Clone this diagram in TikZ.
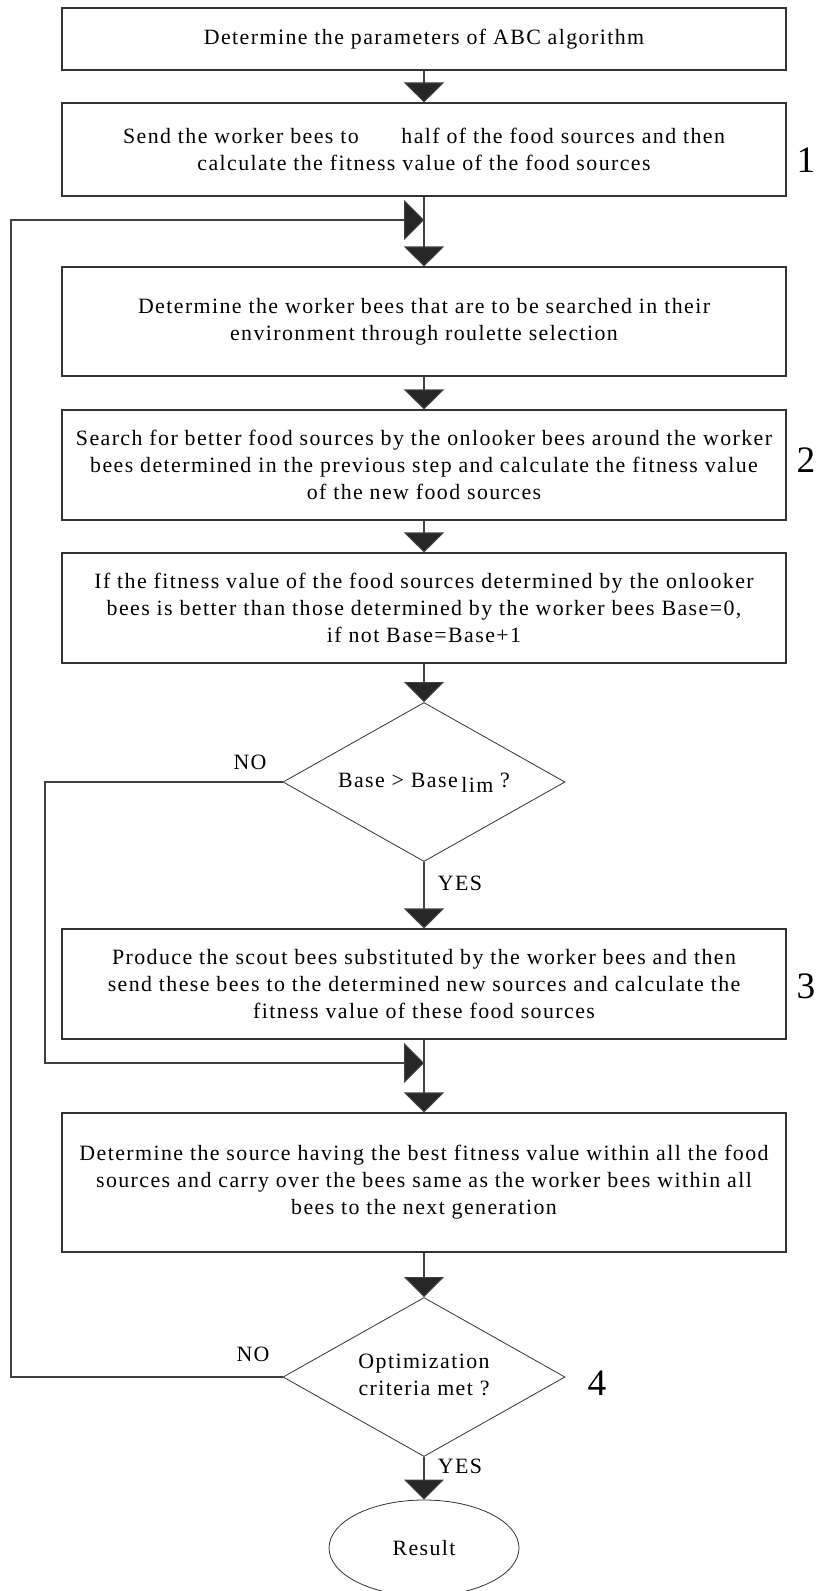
\documentclass[tikz,border=0pt]{standalone}
\usepackage{fontspec}
\setmainfont{Liberation Serif}[LetterSpace=6.5]
\usetikzlibrary{shapes.geometric,arrows.meta}

\newcommand{\bodyfont}{\fontsize{16.4}{20.25}\selectfont}
\newcommand{\stepfont}{\fontsize{28}{30}\selectfont}
\newcommand{\narrow}[1]{\makebox[0pt]{\begin{tabular}{@{}c@{}}#1\end{tabular}}}

\tikzset{
  procbox/.style={draw=black!80, line width=0.8pt, minimum width=543pt, align=center, inner sep=0pt, font=\bodyfont},
  testbox/.style={draw=black!80, line width=0.6pt, diamond, minimum width=211.5pt, minimum height=119.25pt, inner sep=0pt, font=\bodyfont},
  endbox/.style={draw=black!80, line width=0.6pt, ellipse, minimum width=142.5pt, minimum height=72pt, inner sep=0pt, font=\bodyfont},
  flow/.style={draw=black!75, line width=0.8pt, -{Triangle[width=30pt,length=15pt,fill=black!85]}},
  lbl/.style={inner sep=0pt, font=\bodyfont},
  stepno/.style={inner sep=0pt, font=\stepfont}
}

\begin{document}
\begin{tikzpicture}[x=0.75pt,y=0.75pt,yscale=-1,xscale=1]
\useasboundingbox (0,0) rectangle (827,1591);

% Process boxes
\node[procbox, minimum height=46.5pt] (param) at (424,39) {Determine the parameters of ABC algorithm};
\node[procbox, minimum height=69.75pt] (send) at (424,149.5) {Send the worker bees to\hspace{32pt}half of the food sources and then\\calculate the fitness value of the food sources};
\node[procbox, minimum height=81.75pt] (roul) at (424,321.5) {Determine the worker bees that are to be searched in their\\environment through roulette selection};
\node[procbox, minimum height=82.5pt] (onlook) at (424,465) {Search for better food sources by the onlooker bees around the worker\\bees determined in the previous step and calculate the fitness value\\of the new food sources};
\node[procbox, minimum height=82.5pt] (cmp) at (424,608) {If the fitness value of the food sources determined by the onlooker\\bees is better than those determined by the worker bees Base=0,\\if not Base=Base+1};
\node[procbox, minimum height=82.5pt] (scout) at (424,984) {Produce the scout bees substituted by the worker bees and then\\send these bees to the determined new sources and calculate the\\fitness value of these food sources};
\node[procbox, minimum height=104.25pt] (best) at (424,1182.5) {Determine the source having the best fitness value within all the food\\sources and carry over the bees same as the worker bees within all\\bees to the next generation};

% Decisions
\node[testbox] (lim) at (424,782) {\narrow{Base > Base\,\raisebox{-0.55ex}{lim} ?}};
\node[testbox] (crit) at (424,1377) {\narrow{Optimization\\criteria met ?}};
\node[endbox] (res) at (424,1548) {Result};

% Junctions of the loops
\coordinate (jtop) at (424,220);
\coordinate (jmid) at (424,1063);
\coordinate (outer) at (11,0);
\coordinate (inner) at (45,0);

% Flow
\draw[flow] (param) -- (send);
\draw[flow] (send) -- (roul);
\draw[flow] (roul) -- (onlook);
\draw[flow] (onlook) -- (cmp);
\draw[flow] (cmp) -- (lim);
\draw[flow] (lim) -- (scout);
\draw[flow] (scout) -- (best);
\draw[flow] (best) -- (crit);
\draw[flow] (crit) -- (res);
\draw[flow] (lim.west) -- (lim.west -| inner) |- (jmid);
\draw[flow] (crit.west) -- (crit.west -| outer) |- (jtop);

% Labels
\node[lbl] (no1) at (250,762) {NO};
\node[lbl] (yes1) at (460,883) {YES};
\node[lbl] (no2) at (253,1354) {NO};
\node[lbl] (yes2) at (460,1466) {YES};
\node[stepno] (s1) at (806,160) {1};
\node[stepno] (s2) at (806,460) {2};
\node[stepno] (s3) at (806,986) {3};
\node[stepno] (s4) at (597,1383) {4};

\end{tikzpicture}
\end{document}
